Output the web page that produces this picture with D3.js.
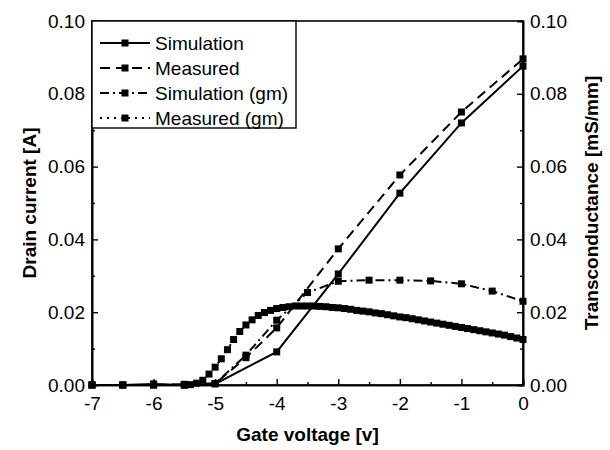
<html>
<head>
<meta charset="utf-8">
<script src="https://d3js.org/d3.v7.min.js"></script>
<style>
  body { margin: 0; background: #fff; }
  text { font-family: "Liberation Sans", Arial, sans-serif; fill: #000; }
</style>
</head>
<body>
<div id="chart"></div>
<script>
// drain current, 1 V steps above -5
var drainV = [-7, -6.5, -6, -5.5, -5, -4.5, -4, -3, -2, -1, 0];
var simDrain = [0, 0, 0.0003, 0, 0.0003, null, 0.0091, 0.0305, 0.0527, 0.0720, 0.0876];
var measDrain = [0, 0, 0, 0.0002, 0.0004, 0.0075, 0.0157, 0.0374, 0.0577, 0.0750, 0.0896];

// simulated transconductance, 0.5 V steps
var gmSimV = [-7, -6.5, -6, -5.5, -5, -4.5, -4, -3.5, -3, -2.5, -2, -1.5, -1, -0.5, 0];
var gmSim = [0, 0, 0, 0, 0.0004, 0.0082, 0.0178, 0.0254, 0.0285, 0.0288, 0.0288, 0.0286, 0.0278, 0.0258, 0.0230];

// measured transconductance, dense points
var gmMeasV = [-5.5, -5.4, -5.3, -5.2, -5.1, -5.0, -4.9, -4.8, -4.7, -4.6, -4.5, -4.4, -4.3, -4.2, -4.1,
  -4.0, -3.9, -3.8, -3.7, -3.6, -3.5, -3.4, -3.3, -3.2, -3.1, -3.0, -2.9, -2.8, -2.7, -2.6,
  -2.5, -2.4, -2.3, -2.2, -2.1, -2.0, -1.9, -1.8, -1.7, -1.6, -1.5, -1.4, -1.3, -1.2, -1.1,
  -1.0, -0.9, -0.8, -0.7, -0.6, -0.5, -0.4, -0.3, -0.2, -0.1, 0];
var gmMeas = [0, 0.0001, 0.0005, 0.0013, 0.0030, 0.0049, 0.0072, 0.0097, 0.0125, 0.0147, 0.0165, 0.0179, 0.0191, 0.0199, 0.0205,
  0.0210, 0.0213, 0.0215, 0.0217, 0.0217, 0.0217, 0.0217, 0.0216, 0.0215, 0.0213, 0.0212, 0.0210, 0.0208, 0.0205, 0.0203,
  0.0201, 0.0198, 0.0196, 0.0193, 0.0190, 0.0187, 0.0185, 0.0182, 0.0179, 0.0176, 0.0173, 0.0170, 0.0167, 0.0164, 0.0161,
  0.0158, 0.0155, 0.0152, 0.0149, 0.0146, 0.0143, 0.0140, 0.0137, 0.0133, 0.0129, 0.0125];

var xTicks = [-7, -6, -5, -4, -3, -2, -1, 0];
var yTicks = [0, 0.02, 0.04, 0.06, 0.08, 0.10];
var legendNames = ["Simulation", "Measured", "Simulation (gm)", "Measured (gm)"];

var width = 610, height = 450;
var margin = {top: 21, right: 87, bottom: 65, left: 92};

var svg = d3.select("#chart").append("svg")
  .attr("width", width)
  .attr("height", height);

var x = d3.scaleLinear().domain([-7, 0]).range([margin.left, width - margin.right]);
var y = d3.scaleLinear().domain([0, 0.10]).range([height - margin.bottom, margin.top]);

function pts(vs, ys) {
  return vs.map(function(v, i) { return {x: v, y: ys[i]}; }).filter(function(d) { return d.y != null; });
}

var series = [
  {data: pts(drainV, simDrain), dash: null, size: 7},
  {data: pts(drainV, measDrain), dash: "10,6", size: 7},
  {data: pts(gmSimV, gmSim), dash: "9,4,2,4", size: 7},
  {data: pts(gmMeasV, gmMeas), dash: "2,5", size: 7}
];

var line = d3.line()
  .x(function(d) { return x(d.x); })
  .y(function(d) { return y(d.y); });

// frame
svg.append("rect")
  .attr("x", x(-7)).attr("y", y(0.10))
  .attr("width", x(0) - x(-7)).attr("height", y(0) - y(0.10))
  .attr("fill", "none").attr("stroke", "#000").attr("stroke-width", 1.6);

// axes, ticks pointing in
svg.append("g").attr("transform", "translate(0," + y(0) + ")")
  .call(d3.axisBottom(x).tickValues(xTicks).tickSize(-6).tickPadding(12)
    .tickFormat(function(d) { return String(d); }));
svg.append("g").attr("transform", "translate(0," + y(0) + ")")
  .call(d3.axisBottom(x).tickValues(d3.range(-6.5, 0, 1)).tickSize(-3).tickFormat(""));

svg.append("g").attr("transform", "translate(" + x(-7) + ",0)")
  .call(d3.axisLeft(y).tickValues(yTicks).tickSize(-6).tickPadding(7).tickFormat(d3.format(".2f")));
svg.append("g").attr("transform", "translate(" + x(-7) + ",0)")
  .call(d3.axisLeft(y).tickValues(d3.range(0.01, 0.1, 0.02)).tickSize(-3).tickFormat(""));

svg.append("g").attr("transform", "translate(" + x(0) + ",0)")
  .call(d3.axisRight(y).tickValues(yTicks).tickSize(-6).tickPadding(7).tickFormat(d3.format(".2f")));
svg.append("g").attr("transform", "translate(" + x(0) + ",0)")
  .call(d3.axisRight(y).tickValues(d3.range(0.01, 0.1, 0.02)).tickSize(-3).tickFormat(""));

svg.selectAll(".domain").attr("stroke", "#000").attr("stroke-width", 1.6);
svg.selectAll(".tick line").attr("stroke", "#000").attr("stroke-width", 1.4);
svg.selectAll(".tick text").style("font-size", "19px").attr("fill", "#000");

// curves
series.forEach(function(s) {
  svg.append("path")
    .datum(s.data)
    .attr("d", line)
    .attr("fill", "none")
    .attr("stroke", "#000")
    .attr("stroke-width", 2)
    .attr("stroke-dasharray", s.dash);
  svg.append("g").selectAll("rect")
    .data(s.data)
    .enter().append("rect")
    .attr("x", function(d) { return x(d.x) - s.size / 2; })
    .attr("y", function(d) { return y(d.y) - s.size / 2; })
    .attr("width", s.size)
    .attr("height", s.size)
    .attr("fill", "#000");
});

// axis titles
svg.append("text")
  .attr("x", (x(-7) + x(0)) / 2).attr("y", 441)
  .attr("text-anchor", "middle")
  .style("font-size", "19px").style("font-weight", "bold")
  .text("Gate voltage [v]");

svg.append("text")
  .attr("transform", "translate(36," + (y(0.05)) + ") rotate(-90)")
  .attr("text-anchor", "middle")
  .style("font-size", "19px").style("font-weight", "bold")
  .text("Drain current [A]");

svg.append("text")
  .attr("transform", "translate(598," + (y(0.05)) + ") rotate(-90)")
  .attr("text-anchor", "middle")
  .style("font-size", "19px").style("font-weight", "bold")
  .text("Transconductance [mS/mm]");

// legend
var lg = svg.append("g");
lg.append("rect")
  .attr("x", x(-7)).attr("y", y(0.10))
  .attr("width", 204).attr("height", 107)
  .attr("fill", "#fff").attr("stroke", "#000").attr("stroke-width", 1.4);

legendNames.forEach(function(name, i) {
  var ly = 43 + i * 25;
  lg.append("line")
    .attr("x1", 100).attr("x2", 150).attr("y1", ly).attr("y2", ly)
    .attr("stroke", "#000").attr("stroke-width", 2)
    .attr("stroke-dasharray", series[i].dash);
  lg.append("rect")
    .attr("x", 125 - 3.5).attr("y", ly - 3.5)
    .attr("width", 7).attr("height", 7).attr("fill", "#000");
  lg.append("text")
    .attr("x", 155).attr("y", ly + 7)
    .style("font-size", "19px")
    .text(name);
});
</script>
</body>
</html>
